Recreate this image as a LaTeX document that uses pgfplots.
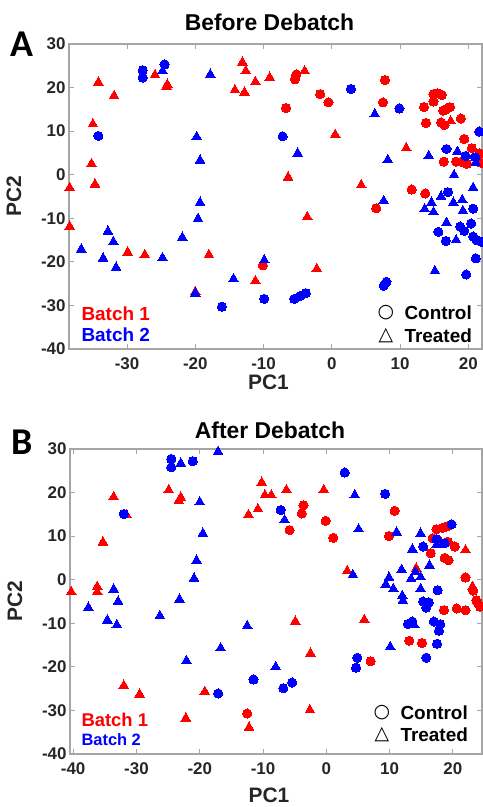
\documentclass[border=0pt]{standalone}
\usepackage{fontspec}
\setmainfont{Liberation Sans}
\newfontfamily\symfont{DejaVu Sans}
\newfontfamily\panelfont{Carlito}
\usepackage{pgfplots}
\pgfplotsset{compat=1.18}

\definecolor{axgray}{RGB}{165,165,165}
\definecolor{txt}{RGB}{38,38,38}

\pgfplotsset{
  pcapanel/.style={
    scale only axis,
    height=305bp,
    ymin=-40, ymax=30,
    ytick={-40,-30,-20,-10,0,10,20,30},
    yticklabels={-40,-30,-20,-10,0,10,20,30},
    axis line style={axgray, line width=1.2bp},
    tick style={axgray, line width=1bp},
    major tick length=5bp,
    tick align=inside,
    ticklabel style={font=\bfseries\fontsize{17}{17}\selectfont, text=txt},
    xticklabel style={yshift=-5bp},
    every axis y label/.style={at={([xshift=-55bp]axis description cs:0,0.5)}, rotate=90,
      anchor=center, font=\bfseries\fontsize{21}{21}\selectfont, text=txt},
    every axis x label/.style={font=\bfseries\fontsize{21}{21}\selectfont, text=txt, anchor=center},
    every axis title/.style={font=\bfseries\fontsize{23}{23}\selectfont, text=black, anchor=center},
    ylabel={PC2}, xlabel={PC1},
  },
  rc/.style={only marks, mark=*, mark size=4.6bp, mark options={draw=red, fill=red, line width=0pt}},
  rt/.style={only marks, mark=triangle*, mark size=5.6bp, mark options={draw=red, fill=red, line width=0pt}},
  bc/.style={only marks, mark=*, mark size=4.6bp, mark options={draw=blue, fill=blue, line width=0pt}},
  bt/.style={only marks, mark=triangle*, mark size=5.6bp, mark options={draw=blue, fill=blue, line width=0pt}},
}

\begin{document}
\begin{tikzpicture}
\useasboundingbox (0,0) rectangle (483bp,807bp);

% ---------------- Panel A: before debatch ----------------
\begin{axis}[pcapanel,
  at={(69bp,458bp)}, anchor=south west, width=413bp,
  xmin=-38.5, xmax=22.0,
  xtick={-30,-20,-10,0,10,20},
  xticklabels={-30,-20,-10,0,10,20},
  title={Before Debatch},
  title style={at={([xshift=-6bp,yshift=22bp]axis description cs:0.5,1)}},
  xlabel style={at={([xshift=-7bp,yshift=-33bp]axis description cs:0.5,0)}},
]
\addplot[rc] coordinates {
 (-5.2,23.0) (-5.4,21.9) (7.8,21.7) (-1.7,18.5) (-0.5,16.6) (-6.7,15.3) (7.5,16.6)
 (14.9,18.5) (15.5,18.7) (16.1,18.3) (14.9,16.8) (13.5,15.5) (16.3,14.7) (17.3,15.5)
 (16.7,15.0) (13.8,11.9) (16.0,12.0) (16.5,11.4) (18.9,12.9) (19.4,8.2) (20.5,6.1)
 (21.7,4.9) (16.4,3.0) (18.2,3.0) (19.0,3.0) (19.8,2.5) (21.9,2.7)
 (11.7,-3.4) (13.7,-4.3) (6.5,-7.7) (-10.1,-20.8)
};
\addplot[rt] coordinates {
 (-38.4,-3.0) (-34.2,21.2) (-31.9,18.1) (-35.0,11.6) (-35.2,2.5) (-34.7,-2.2)
 (-25.9,22.9) (-24.2,20.2) (-24.1,20.7) (-13.1,25.8) (-12.6,23.8) (-11.2,21.3)
 (-14.2,19.4) (-12.8,18.9) (-9.1,22.3) (-4.0,23.8) (17.4,12.3) (10.9,6.1) (0.5,9.2)
 (-6.4,-0.6) (4.3,-2.4) (-3.6,-9.7) (-38.4,-11.9) (-29.9,-17.8) (-27.4,-18.4)
 (-18.0,-18.4) (-20.0,-26.9) (-11.2,-24.4) (-2.2,-21.6)
};
\addplot[bc] coordinates {
 (-34.2,8.9) (-27.7,24.0) (-27.7,22.3) (-24.5,25.3) (2.8,19.7) (9.9,15.2) (-7.2,8.8)
 (21.6,9.9) (16.8,5.9) (19.6,4.3) (21.0,4.0) (17.0,-4.0) (20.7,-7.8) (-16.1,-30.3)
 (-9.9,-28.5) (-5.5,-28.5) (-4.6,-27.8) (-3.8,-27.2) (7.6,-25.5) (8.0,-24.6)
 (19.7,-22.9) (21.1,-19.2) (15.6,-13.1) (16.7,-15.2) (18.8,-11.9) (19.4,-12.9)
 (20.4,-11.2) (20.7,-14.2) (21.2,-15.0) (21.9,-15.4)
};
\addplot[bt] coordinates {
 (-24.8,23.8) (-17.8,23.0) (-19.8,8.7) (-19.3,3.3) (-19.3,-6.4) (-19.6,-10.1)
 (6.3,13.9) (18.4,5.3) (21.1,2.8) (14.2,4.3) (8.2,3.4) (-5.0,4.9) (17.9,-0.1)
 (20.7,-3.0) (16.0,-5.0) (14.6,-6.4) (17.8,-6.4) (19.1,-5.8) (13.6,-7.9) (14.9,-8.6)
 (19.2,-8.3) (7.6,-6.0) (16.8,-11.0) (18.2,-15.0) (-36.7,-17.1) (-32.8,-13.0)
 (-32.0,-15.4) (-33.5,-19.2) (-31.6,-21.3) (-24.8,-19.1) (-21.9,-14.4) (-20.0,-27.2)
 (-14.4,-23.9) (-9.9,-19.6) (15.1,-22.1)
};
\node[anchor=west, font=\bfseries\fontsize{19}{19}\selectfont, text=red]
  at (axis description cs:0,0) [xshift=9bp, yshift=35bp] {Batch 1};
\node[anchor=west, font=\bfseries\fontsize{19}{19}\selectfont, text=blue]
  at (axis description cs:0,0) [xshift=9bp, yshift=14bp] {Batch 2};
\node[font=\symfont\fontsize{19}{19}\selectfont, text=black]
  at (axis description cs:0,0) [xshift=317bp, yshift=36bp] {○};
\node[font=\symfont\fontsize{19}{19}\selectfont, text=black]
  at (axis description cs:0,0) [xshift=317bp, yshift=13bp] {△};
\node[anchor=west, font=\bfseries\fontsize{19}{19}\selectfont, text=black]
  at (axis description cs:0,0) [xshift=332bp, yshift=36bp] {Control};
\node[anchor=west, font=\bfseries\fontsize{19}{19}\selectfont, text=black]
  at (axis description cs:0,0) [xshift=332bp, yshift=13bp] {Treated};
\end{axis}

% ---------------- Panel B: after debatch ----------------
\begin{axis}[pcapanel,
  at={(70bp,53bp)}, anchor=south west, width=412bp,
  xmin=-40.5, xmax=24.6,
  xtick={-40,-30,-20,-10,0,10,20},
  xticklabels={-40,-30,-20,-10,0,10,20},
  title={After Debatch},
  title style={at={([xshift=-6bp,yshift=19bp]axis description cs:0.5,1)}},
  xlabel style={at={([xshift=-7bp,yshift=-41bp]axis description cs:0.5,0)}},
]
\addplot[rc] coordinates {
 (-3.6,17.1) (-3.9,15.2) (-5.8,11.4) (-0.1,13.5) (1.1,9.6) (10.8,15.8) (9.9,10.0)
 (17.4,11.6) (18.4,11.9) (19.2,12.3) (16.8,9.5) (17.6,9.1) (19.2,8.7) (20.3,7.6)
 (16.5,6.1) (18.7,5.0) (19.3,4.5) (22.0,0.5) (23.2,-2.5) (23.7,-4.7) (24.0,-5.4)
 (24.3,-6.2) (18.6,-7.0) (20.6,-6.6) (22.0,-7.0) (13.1,-14.0) (15.1,-14.5)
 (7.0,-18.7) (-12.5,-30.7)
};
\addplot[rt] coordinates {
 (-40.3,-2.8) (-36.2,-1.6) (-36.2,-2.8) (-35.3,8.6) (-33.6,19.0) (-31.6,14.9)
 (-24.9,20.6) (-23.3,18.1) (-23.0,18.9) (-12.3,14.9) (-10.8,16.2) (-10.2,22.3)
 (-9.7,19.4) (-8.7,19.4) (-6.3,20.6) (-0.4,20.6) (22.0,6.8) (14.2,2.6) (3.3,2.0)
 (23.1,-1.6) (-40.6,-17.4) (-32.0,-24.3) (-29.5,-26.3) (-19.2,-25.7) (-22.2,-31.8)
 (-12.2,-33.9) (-4.9,-9.6) (6.0,-9.2) (-2.5,-16.9) (-2.6,-29.9)
};
\addplot[bc] coordinates {
 (-32.0,15.1) (-24.5,27.7) (-24.5,25.8) (-21.1,27.2) (2.9,24.6) (9.3,19.7) (-7.2,16.0)
 (15.3,7.6) (17.4,9.3) (18.7,8.4) (19.8,12.7) (17.6,-2.4) (15.3,-5.0) (16.2,-5.2)
 (15.8,-6.4) (-17.1,-26.1) (-11.5,-22.9) (-6.8,-24.9) (-5.4,-23.6) (4.9,-17.9)
 (4.7,-20.2) (17.5,-14.7) (15.8,-17.9) (12.9,-10.2) (13.6,-9.6) (17.0,-9.6)
 (18.0,-10.2) (17.8,-11.7)
};
\addplot[bt] coordinates {
 (-37.6,-6.4) (-33.6,-2.2) (-32.9,-5.0) (-34.6,-9.3) (-33.1,-10.4) (-26.3,-8.3)
 (-23.0,26.7) (-17.1,29.4) (-20.0,17.8) (-19.5,10.6) (-20.5,4.4) (-20.9,0.3)
 (-23.2,-4.5) (-22.1,-18.6) (-16.7,-15.7) (-12.5,-10.6) (-8.0,-20.0) (-6.6,13.7)
 (4.5,19.4) (5.1,11.6) (4.2,1.1) (11.1,10.9) (14.9,10.6) (13.6,7.0) (17.4,8.0)
 (16.3,3.3) (11.9,2.3) (14.1,1.8) (9.9,0.5) (13.4,0.2) (14.9,0.6) (9.4,-1.1)
 (10.6,-2.1) (14.9,-2.1) (12.0,-3.7) (12.1,-4.8) (10.1,-15.4) (13.9,-10.4)
};
\node[anchor=west, font=\bfseries\fontsize{18.5}{18.5}\selectfont, text=red]
  at (axis description cs:0,0) [xshift=8bp, yshift=34bp] {Batch 1};
\node[anchor=west, font=\bfseries\fontsize{16.5}{16.5}\selectfont, text=blue]
  at (axis description cs:0,0) [xshift=8bp, yshift=14bp] {Batch 2};
\node[font=\symfont\fontsize{19}{19}\selectfont, text=black]
  at (axis description cs:0,0) [xshift=312bp, yshift=41bp] {○};
\node[font=\symfont\fontsize{19}{19}\selectfont, text=black]
  at (axis description cs:0,0) [xshift=312bp, yshift=19bp] {△};
\node[anchor=west, font=\bfseries\fontsize{19}{19}\selectfont, text=black]
  at (axis description cs:0,0) [xshift=327bp, yshift=41bp] {Control};
\node[anchor=west, font=\bfseries\fontsize{19}{19}\selectfont, text=black]
  at (axis description cs:0,0) [xshift=327bp, yshift=19bp] {Treated};
\end{axis}

% panel letters
\node[font=\panelfont\bfseries\fontsize{38}{38}\selectfont, text=black] at (22bp,763bp) {A};
\node[font=\panelfont\bfseries\fontsize{38}{38}\selectfont, text=black] at (22bp,365bp) {B};
\end{tikzpicture}
\end{document}
